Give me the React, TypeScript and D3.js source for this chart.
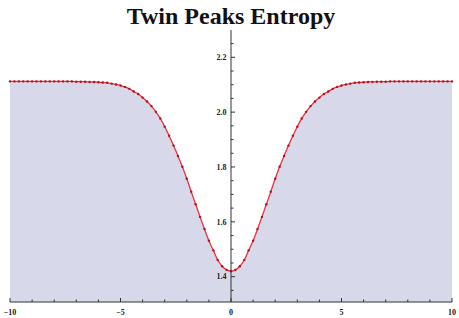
import React from "react";
import * as d3 from "d3";

const W = 459;
const H = 318;

const title = "Twin Peaks Entropy";

// sample positions (step 0.2 from -10 to 10)
const xValues: number[] = d3.range(101).map((i) => -10 + i * 0.2);

const entropy: number[] = [
  2.112, 2.112, 2.112, 2.112, 2.112, 2.112, 2.112, 2.112, 2.112, 2.112,
  2.112, 2.112, 2.112, 2.112, 2.112, 2.111, 2.111, 2.111, 2.110, 2.110,
  2.109, 2.108, 2.107, 2.104, 2.101, 2.097, 2.092, 2.085, 2.075, 2.066,
  2.053, 2.039, 2.022, 2.001, 1.977, 1.947, 1.914, 1.878, 1.840, 1.801,
  1.757, 1.710, 1.664, 1.618, 1.574, 1.531, 1.496, 1.461, 1.438, 1.425,
  1.420,
  1.425, 1.438, 1.461, 1.496, 1.531, 1.574, 1.618, 1.664, 1.710, 1.757,
  1.801, 1.840, 1.878, 1.914, 1.947, 1.977, 2.001, 2.022, 2.039, 2.053,
  2.066, 2.075, 2.085, 2.092, 2.097, 2.101, 2.104, 2.107, 2.108, 2.109,
  2.110, 2.110, 2.111, 2.111, 2.111, 2.112, 2.112, 2.112, 2.112, 2.112,
  2.112, 2.112, 2.112, 2.112, 2.112, 2.112, 2.112, 2.112, 2.112, 2.112,
];

const xMajorTicks = [-10, -5, 0, 5, 10];
const xMajorLabels = ["\u221210", "\u22125", "0", "5", "10"];
const xMinorTicks = [-9, -8, -7, -6, -4, -3, -2, -1, 1, 2, 3, 4, 6, 7, 8, 9];
const yMajorTicks = [1.4, 1.6, 1.8, 2.0, 2.2];
const yMajorLabels = ["1.4", "1.6", "1.8", "2.0", "2.2"];
const yMinorTicks = [1.35, 1.45, 1.5, 1.55, 1.65, 1.7, 1.75, 1.85, 1.9, 1.95, 2.05, 2.1, 2.15, 2.25];

export default function App() {
  const x = d3.scaleLinear().domain([-10, 10]).range([10, 452]);
  const y = d3.scaleLinear().domain([1.3077, 2.2995]).range([302, 30]);
  const pts = xValues.map((xv, i) => [xv, entropy[i]] as [number, number]);

  const area = d3
    .area<[number, number]>()
    .x((d) => x(d[0]))
    .y0(y(1.3077))
    .y1((d) => y(d[1]))
    .curve(d3.curveMonotoneX);
  const line = d3
    .line<[number, number]>()
    .x((d) => x(d[0]))
    .y((d) => y(d[1]))
    .curve(d3.curveMonotoneX);

  const axisColor = "#333";
  const x0 = x(0);
  const yBase = y(1.3077);
  const labelFont = "'Liberation Serif', 'Times New Roman', serif";

  return (
    <svg width={W} height={H} style={{ position: "absolute", left: 0, top: 0 }}>
      <rect width={W} height={H} fill="#fff" />
      <text
        x={231}
        y={23.5}
        textAnchor="middle"
        fontFamily={labelFont}
        fontWeight="bold"
        fontSize={24}
        fill="#111"
      >
        {title}
      </text>
      <path d={area(pts) || ""} fill="#d8d8eb" stroke="none" />
      <path d={line(pts) || ""} fill="none" stroke="#e8323c" strokeWidth={1.3} />
      {pts.map((p, i) => (
        <circle key={i} cx={x(p[0])} cy={y(p[1])} r={1.2} fill="#b5101e" />
      ))}
      {/* x axis */}
      <line x1={x(-10)} x2={x(10)} y1={yBase} y2={yBase} stroke={axisColor} strokeWidth={1} />
      {xMajorTicks.map((t, i) => (
        <g key={"xm" + i}>
          <line x1={x(t)} x2={x(t)} y1={yBase} y2={yBase - 4} stroke={axisColor} strokeWidth={1} />
          <text
            x={x(t)}
            y={315}
            textAnchor="middle"
            fontFamily={labelFont}
            fontWeight="bold"
            fontSize={8}
            fill="#222"
          >
            {xMajorLabels[i]}
          </text>
        </g>
      ))}
      {xMinorTicks.map((t, i) => (
        <line key={"xn" + i} x1={x(t)} x2={x(t)} y1={yBase} y2={yBase - 2.5} stroke={axisColor} strokeWidth={1} />
      ))}
      {/* y axis */}
      <line x1={x0} x2={x0} y1={y(2.2995)} y2={yBase} stroke={axisColor} strokeWidth={1} />
      {yMajorTicks.map((t, i) => (
        <g key={"ym" + i}>
          <line x1={x0} x2={x0 + 4} y1={y(t)} y2={y(t)} stroke={axisColor} strokeWidth={1} />
          <text
            x={x0 - 4.5}
            y={y(t) + 2.8}
            textAnchor="end"
            fontFamily={labelFont}
            fontWeight="bold"
            fontSize={8}
            fill="#222"
          >
            {yMajorLabels[i]}
          </text>
        </g>
      ))}
      {yMinorTicks.map((t, i) => (
        <line key={"yn" + i} x1={x0} x2={x0 + 2.5} y1={y(t)} y2={y(t)} stroke={axisColor} strokeWidth={1} />
      ))}
    </svg>
  );
}
